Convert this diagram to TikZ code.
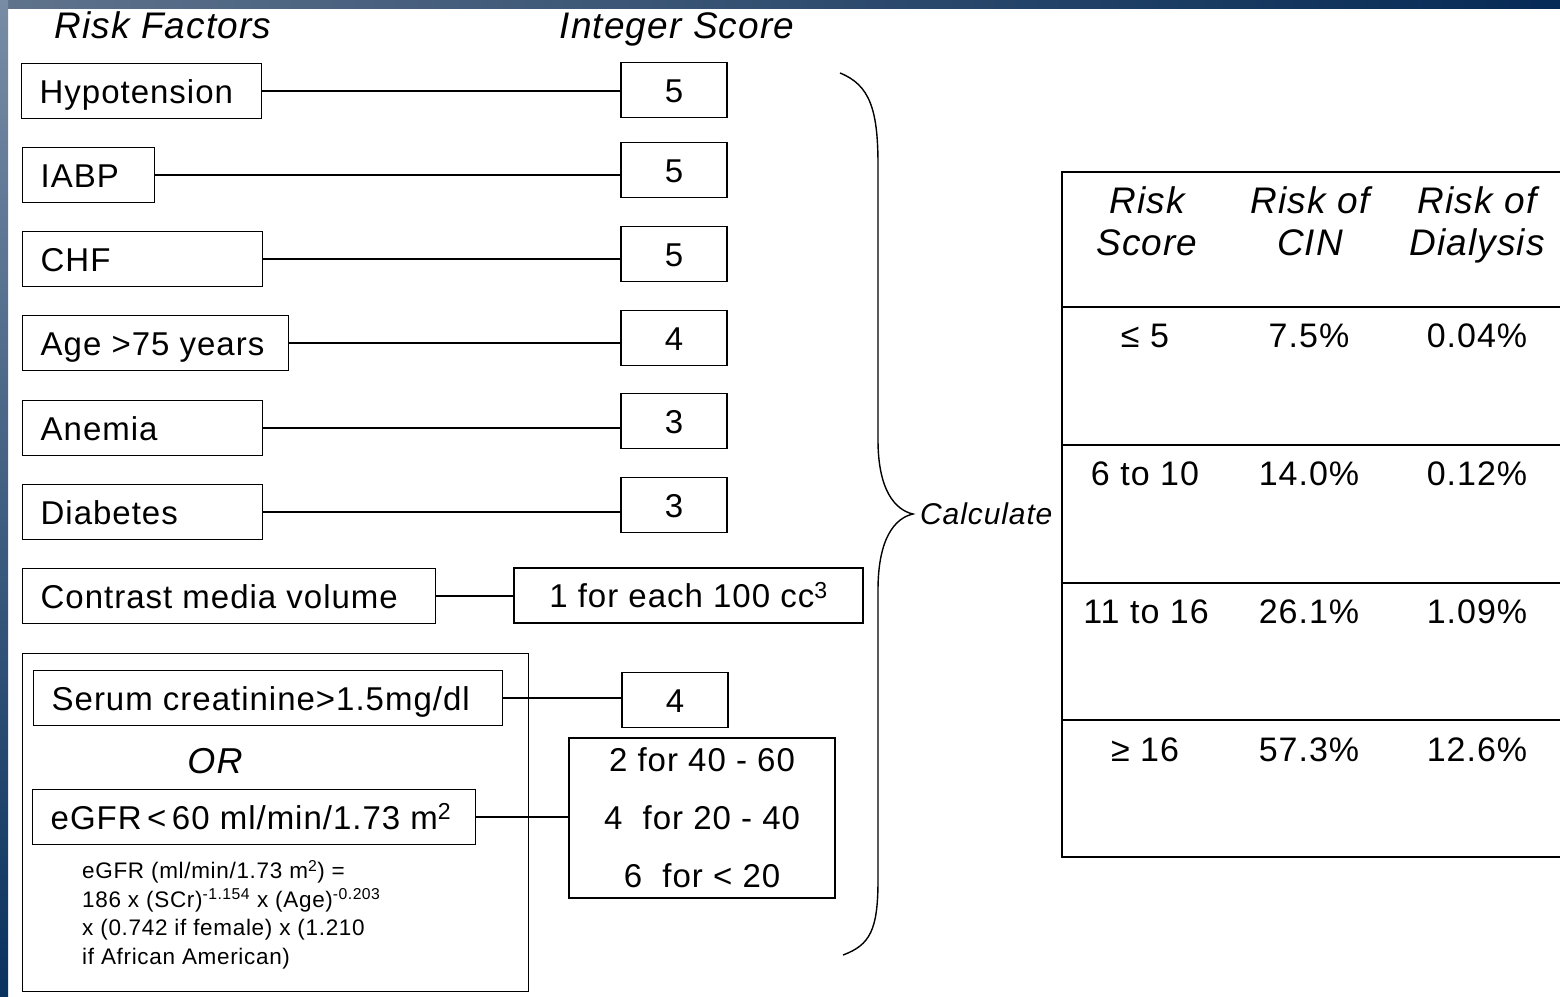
\documentclass[tikz,border=0pt]{standalone}
\usepackage{fontspec}
\setmainfont[LetterSpace=3]{Liberation Sans}
\begin{document}
\begin{tikzpicture}[x=1pt,y=-1pt,
  box/.style={draw, line width=1.4pt, inner sep=0pt, text height=28pt, text depth=4pt, font=\fontsize{33}{40}\selectfont},
  lbox/.style={box, anchor=west, minimum height=55pt, inner xsep=18pt},
  sbox/.style={box, minimum width=106pt, minimum height=55pt},
  conn/.style={line width=1.3pt},
  hdr/.style={font=\fontsize{37}{42}\selectfont\itshape, align=center},
  thdr/.style={hdr, text depth=9pt},
  cell/.style={font=\fontsize{34}{40}\selectfont, text height=28pt, text depth=4pt},
]
\useasboundingbox (0,0) rectangle (1560,996);
\fill[white] (0,0) rectangle (1560,996);
% frame strips
\fill[left color={rgb,255:red,95;green,115;blue,140}, right color={rgb,255:red,5;green,42;blue,85}] (0,0) rectangle (1560,8);
\fill[top color={rgb,255:red,120;green,140;blue,165}, bottom color={rgb,255:red,10;green,50;blue,95}] (0,0) rectangle (8,996);

% headers
\node[hdr, text height=30pt, text depth=4pt] (hrf) at (163,25) {Risk Factors};
\node[hdr, text height=30pt, text depth=4pt] (his) at (677,25) {Integer Score};

% risk factor boxes
\node[lbox] (hyp) at (21,91) {\makebox[204pt][l]{Hypotension}};
\node[lbox] (iabp) at (22,175) {\makebox[96pt][l]{IABP}};
\node[lbox] (chf) at (22,259) {\makebox[204pt][l]{CHF}};
\node[lbox] (age) at (22,343) {\makebox[230pt][l]{Age >75 years}};
\node[lbox] (anem) at (22,428) {\makebox[204pt][l]{Anemia}};
\node[lbox] (diab) at (22,512) {\makebox[204pt][l]{Diabetes}};
\node[lbox] (contr) at (22,596) {\makebox[377pt][l]{Contrast media volume}};

% score boxes
\node[sbox] (s1) at (674,90) {5};
\node[sbox] (s2) at (674,170) {5};
\node[sbox] (s3) at (674,254) {5};
\node[sbox] (s4) at (674,338) {4};
\node[sbox] (s5) at (674,421) {3};
\node[sbox] (s6) at (674,505) {3};
\node[box, minimum width=349pt, minimum height=55pt] (s7) at (688.5,595.5) {1 for each 100 cc\textsuperscript{3}};

% renal group
\node[draw, line width=1.4pt, minimum width=506pt, minimum height=338pt, inner sep=0pt, anchor=north west] (grp) at (22,653) {};
\node[lbox] (scr) at (33,698) {\makebox[433pt][l]{Serum creatinine>1.5mg/dl}};
\node[font=\fontsize{36}{40}\selectfont\itshape, text height=30pt, text depth=4pt] (or) at (215,760) {OR};
\node[lbox] (egfr) at (32,817) {\makebox[407pt][l]{eGFR\,<\,60 ml/min/1.73 m\textsuperscript{2}}};
\node[anchor=north west, align=left, inner sep=0pt, font=\fontsize{22.5}{28.5}\selectfont] (form) at (82,860)
  {eGFR (ml/min/1.73 m\textsuperscript{2}) =\\
   186 x (SCr)\textsuperscript{-1.154} x (Age)\textsuperscript{-0.203}\\
   x (0.742 if female) x (1.210\\
   if African American)};
\node[sbox] (s8) at (675,700) {4};
\node[draw, line width=1.4pt, inner sep=0pt, minimum width=266pt, minimum height=160pt, align=center, font=\fontsize{33}{58}\selectfont] (s9) at (702,818)
  {2 for 40 - 60\\4\ \ for 20 - 40\\6\ \ for < 20};

% connectors
\draw[conn] (hyp.east) -- (hyp.east -| s1.west);
\draw[conn] (iabp.east) -- (iabp.east -| s2.west);
\draw[conn] (chf.east) -- (chf.east -| s3.west);
\draw[conn] (age.east) -- (age.east -| s4.west);
\draw[conn] (anem.east) -- (anem.east -| s5.west);
\draw[conn] (diab.east) -- (diab.east -| s6.west);
\draw[conn] (contr.east) -- (contr.east -| s7.west);
\draw[conn] (scr.east) -- (scr.east -| s8.west);
\draw[conn] (egfr.east) -- (egfr.east -| s9.west);

% brace
\coordinate (btop) at (840,73);
\coordinate (btip) at (913,514);
\coordinate (bbot) at (843,955);
\draw[line width=1.4pt] (btop) .. controls (870,85) and (878,110) .. (878,165) -- (878,440)
  .. controls (878,490) and (895,510) .. (btip)
  .. controls (895,518) and (878,538) .. (878,590) -- (878,880)
  .. controls (878,930) and (870,945) .. (bbot);
\node[anchor=west, font=\fontsize{30}{36}\selectfont\itshape, inner sep=0pt] (calc) at (920,514) {Calculate};

% table
\draw[line width=1.4pt] (1560,172) -- (1062,172) -- (1062,857) -- (1560,857);
\foreach \yy in {307,445,583,720}
  \draw[line width=1.4pt] (1062,\yy) -- (1560,\yy);
\node[thdr] (t1) at (1147,226) {Risk\\Score};
\node[thdr] (t2) at (1310,226) {Risk of\\CIN};
\node[thdr] (t3) at (1477,226) {Risk of\\Dialysis};
\node[cell] (a1) at (1145,335) {≤ 5};
\node[cell] (a2) at (1309,335) {7.5\%};
\node[cell] (a3) at (1477,335) {0.04\%};
\node[cell] (b1) at (1145,473) {6 to 10};
\node[cell] (b2) at (1309,473) {14.0\%};
\node[cell] (b3) at (1477,473) {0.12\%};
\node[cell] (c1) at (1146,611) {11 to 16};
\node[cell] (c2) at (1309,611) {26.1\%};
\node[cell] (c3) at (1477,611) {1.09\%};
\node[cell] (d1) at (1145,749) {≥ 16};
\node[cell] (d2) at (1309,749) {57.3\%};
\node[cell] (d3) at (1477,749) {12.6\%};
\end{tikzpicture}
\end{document}
